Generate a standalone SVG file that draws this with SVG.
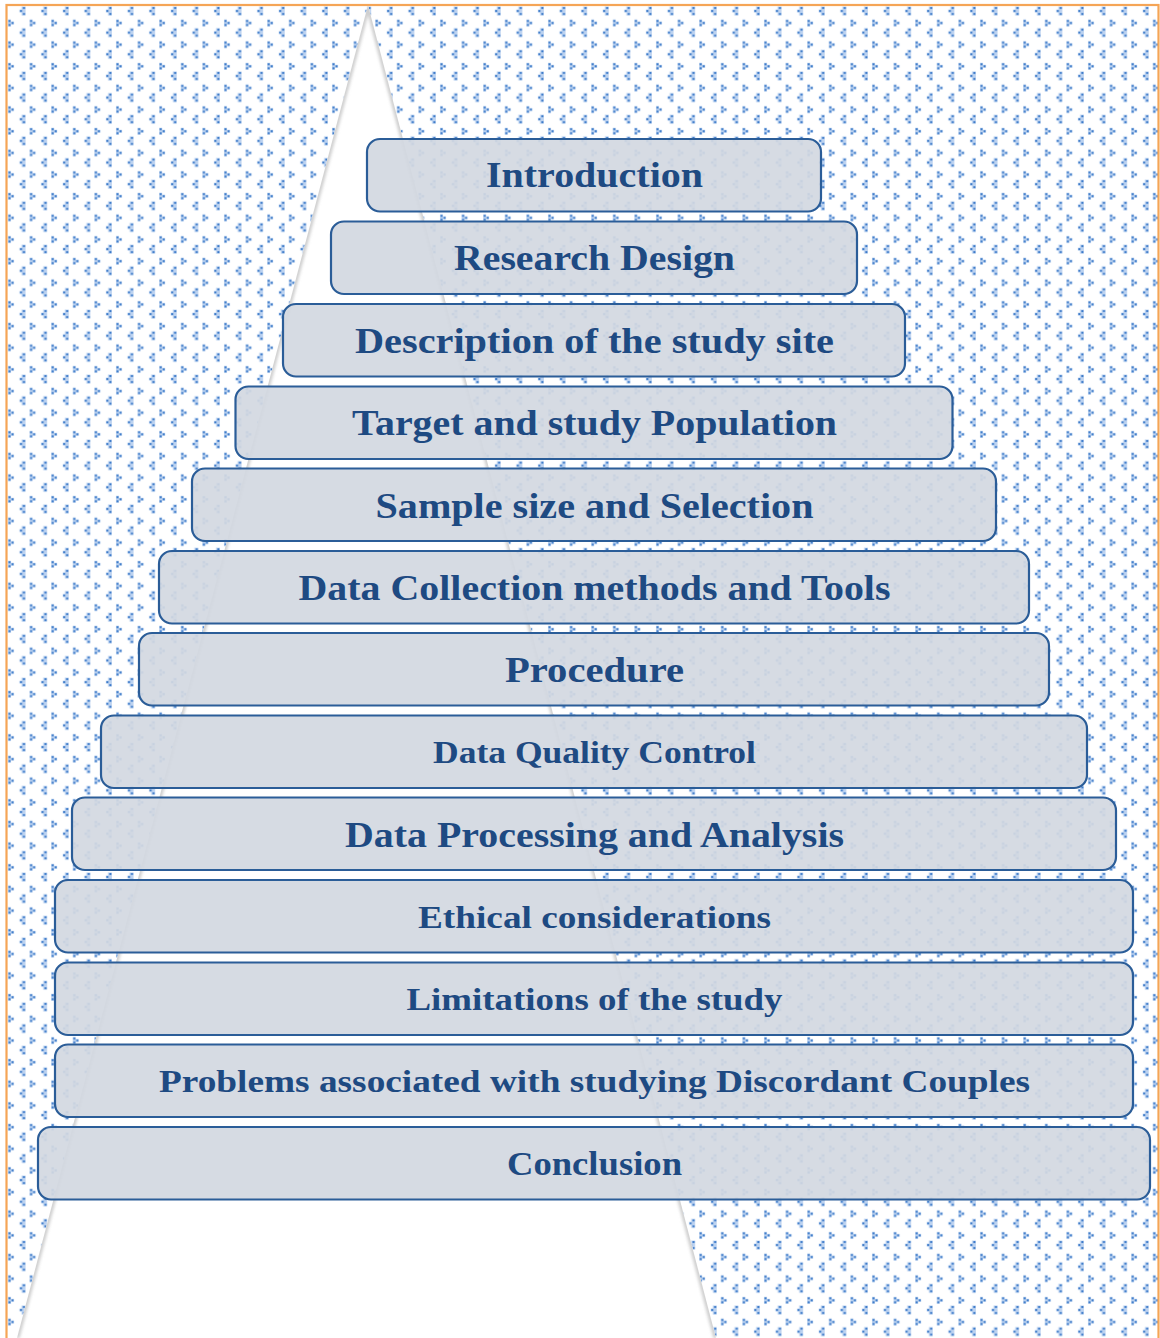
<svg xmlns="http://www.w3.org/2000/svg" width="1160" height="1338" viewBox="0 0 1160 1338">
  <defs>
    <!-- small "<" and ">" dot pattern of the background -->
    <pattern id="divot" patternUnits="userSpaceOnUse" x="5" y="5" width="21.6" height="21.65">
      <g fill="#bcd2f0">
        <rect x="16.5" y="1.5" width="4" height="9"/>
        <rect x="14.5" y="4.5" width="3" height="3"/>
        <rect x="3" y="14.5" width="3" height="7"/>
        <rect x="6" y="16.5" width="3" height="3"/>
      </g>
      <g fill="#3a79c8">
        <rect x="18" y="2" width="2" height="2"/>
        <rect x="15" y="5" width="2" height="2"/>
        <rect x="18" y="8" width="2" height="2"/>
        <rect x="3.5" y="15" width="2" height="2"/>
        <rect x="6.5" y="17" width="2" height="2"/>
        <rect x="3.5" y="19" width="2" height="2"/>
      </g>
    </pattern>
    <clipPath id="triClip">
      <path d="M368,5 L17,1338 L716,1338 Z"/>
    </clipPath>
    <filter id="soft" x="-10%" y="-10%" width="120%" height="120%">
      <feGaussianBlur stdDeviation="1.6"/>
    </filter>
  </defs>
  <style>
    .step rect { fill: #d3d8e1; fill-opacity: 0.92; stroke: #2b5d98; stroke-width: 2.2; }
    .step text { font-family: "Liberation Serif", "Times New Roman", serif; font-weight: bold; fill: #1e4a82; text-anchor: middle; }
    .lg { font-size: 35px; }
    .sm { font-size: 31.5px; }
    .md { font-size: 33px; }
  </style>

  <!-- page background -->
  <rect x="0" y="0" width="1160" height="1338" fill="#ffffff"/>
  <rect x="6.5" y="5" width="1152" height="1400" fill="url(#divot)"/>

  <!-- white pyramid with a soft inner shade along its sides -->
  <path d="M368,5 L17,1338 L716,1338 Z" fill="#ffffff"/>
  <g clip-path="url(#triClip)">
    <path d="M368,5 L17,1338 M368,5 L716,1338" fill="none" stroke="#cfcfcf" stroke-width="5" filter="url(#soft)"/>
  </g>

  <!-- frame -->
  <rect x="6.5" y="5" width="1152" height="1400" fill="none" stroke="#f5a556" stroke-width="2.2"/>

  <g id="connectors"></g>

  <g id="n1" class="step">
    <rect x="367" y="139" width="454" height="72.5" rx="13"/>
    <text class="lg" x="594.5" y="187" textLength="217" lengthAdjust="spacingAndGlyphs">Introduction</text>
  </g>
  <g id="n2" class="step">
    <rect x="331" y="221.5" width="526" height="72.5" rx="13"/>
    <text class="lg" x="594.5" y="270" textLength="281" lengthAdjust="spacingAndGlyphs">Research Design</text>
  </g>
  <g id="n3" class="step">
    <rect x="283" y="304" width="622" height="72.5" rx="13"/>
    <text class="lg" x="594.5" y="352.5" textLength="479" lengthAdjust="spacingAndGlyphs">Description of the study site</text>
  </g>
  <g id="n4" class="step">
    <rect x="235.5" y="386.5" width="717" height="72.5" rx="13"/>
    <text class="lg" x="594.5" y="435" textLength="485" lengthAdjust="spacingAndGlyphs">Target and study Population</text>
  </g>
  <g id="n5" class="step">
    <rect x="192" y="468.5" width="804" height="72.5" rx="13"/>
    <text class="lg" x="594.5" y="517.5" textLength="438" lengthAdjust="spacingAndGlyphs">Sample size and Selection</text>
  </g>
  <g id="n6" class="step">
    <rect x="159" y="551" width="870" height="72.5" rx="13"/>
    <text class="lg" x="594.5" y="600" textLength="592" lengthAdjust="spacingAndGlyphs">Data Collection methods and Tools</text>
  </g>
  <g id="n7" class="step">
    <rect x="139" y="633" width="910" height="72.5" rx="13"/>
    <text class="lg" x="594.5" y="682" textLength="179" lengthAdjust="spacingAndGlyphs">Procedure</text>
  </g>
  <g id="n8" class="step">
    <rect x="101" y="715.5" width="986" height="72.5" rx="13"/>
    <text class="sm" x="594.5" y="763" textLength="323" lengthAdjust="spacingAndGlyphs">Data Quality Control</text>
  </g>
  <g id="n9" class="step">
    <rect x="72" y="797.5" width="1044" height="72.5" rx="13"/>
    <text class="lg" x="594.5" y="846.5" textLength="499" lengthAdjust="spacingAndGlyphs">Data Processing and Analysis</text>
  </g>
  <g id="n10" class="step">
    <rect x="55" y="880" width="1078" height="72.5" rx="13"/>
    <text class="sm" x="594.5" y="927.5" textLength="353" lengthAdjust="spacingAndGlyphs">Ethical considerations</text>
  </g>
  <g id="n11" class="step">
    <rect x="55" y="962.5" width="1078" height="72.5" rx="13"/>
    <text class="sm" x="594.5" y="1010" textLength="376" lengthAdjust="spacingAndGlyphs">Limitations of the study</text>
  </g>
  <g id="n12" class="step">
    <rect x="55" y="1044.5" width="1078" height="72.5" rx="13"/>
    <text class="sm" x="594.5" y="1092" textLength="871" lengthAdjust="spacingAndGlyphs">Problems associated with studying Discordant Couples</text>
  </g>
  <g id="n13" class="step">
    <rect x="38" y="1127" width="1112" height="72.5" rx="13"/>
    <text class="md" x="594.5" y="1175" textLength="175" lengthAdjust="spacingAndGlyphs">Conclusion</text>
  </g>
</svg>
